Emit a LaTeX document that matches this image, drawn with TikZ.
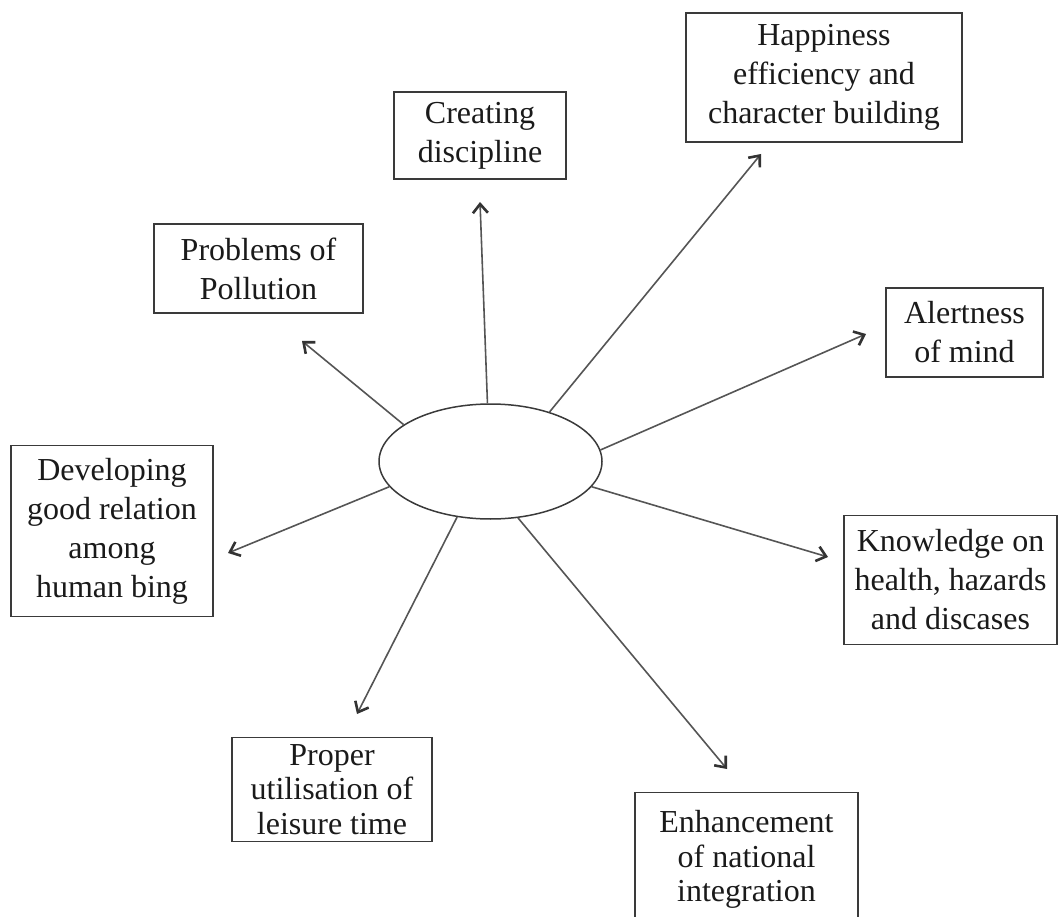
\documentclass[tikz,border=0pt]{standalone}
\usepackage{fontspec}
\setmainfont{Liberation Serif}
\usetikzlibrary{arrows.meta,shapes.geometric}
\definecolor{ink}{HTML}{1A1A1A}
\definecolor{boxline}{HTML}{3A3A3A}
\definecolor{arrowgray}{HTML}{555555}
\definecolor{tipgray}{HTML}{333333}
\begin{document}
\begin{tikzpicture}[x=1pt,y=-1pt,
  box/.style={draw=boxline,line width=1.3pt,rectangle,inner sep=0pt,align=center,
    text=ink,font=\fontsize{32}{39}\selectfont},
  tight/.style={font=\fontsize{32}{34.5}\selectfont},
  hub/.style={draw=boxline,line width=1.5pt,ellipse,inner sep=0pt,
    minimum width=223pt,minimum height=115pt},
  spoke/.style={draw=arrowgray,line width=1.6pt,
    -{Straight Barb[length=9pt,width=15pt,line width=2.6pt,color=tipgray]}}]
\clip (0,0) rectangle (1060,917);
\useasboundingbox (0,0) rectangle (1060,917);

% central ellipse
\node[hub] (c) at (490.5,461.5) {};

% surrounding boxes
\node[box,minimum width=276pt,minimum height=129pt] (happy) at (824,77.5)
  {Happiness\\efficiency and\\character building};
\node[box,minimum width=172pt,minimum height=87pt] (disc) at (480,135.5)
  {Creating\\discipline};
\node[box,minimum width=209pt,minimum height=89pt] (poll) at (258.5,268.5)
  {Problems of\\Pollution};
\node[box,minimum width=157pt,minimum height=89pt] (alert) at (964.5,332.5)
  {Alertness\\of mind};
\node[box,minimum width=202pt,minimum height=171pt] (rel) at (112,531)
  {Developing\\good relation\\among\\human bing};
\node[box,minimum width=213pt,minimum height=129pt] (know) at (950.5,580)
  {Knowledge on\\health, hazards\\and discases};
\node[box,tight,minimum width=200pt,minimum height=104pt,anchor=north] (leis) at (332,737)
  {Proper\\utilisation of\\leisure time};
% this box runs past the lower edge of the page
\node[box,tight,minimum width=223pt,minimum height=134pt,anchor=north] (nat) at (746.5,792)
  {Enhancement\\of national\\integration};

% arrow tips
\coordinate (tDisc)  at (480,202);
\coordinate (tHappy) at (761,154);
\coordinate (tPoll)  at (302,341);
\coordinate (tAlert) at (866,334);
\coordinate (tKnow)  at (828,557);
\coordinate (tRel)   at (228,553);
\coordinate (tLeis)  at (357,714);
\coordinate (tNat)   at (727,769);

% spokes from the ellipse
\draw[spoke] (c.93)    -- (tDisc);
\draw[spoke] (c.40)    -- (tHappy);
\draw[spoke] (c.157.5) -- (tPoll);
\draw[spoke] (c.6.7)   -- (tAlert);
\draw[spoke] (c.-14.2) -- (tKnow);
\draw[spoke] (c.194.4) -- (tRel);
\draw[spoke] (c.239)   -- (tLeis);
\draw[spoke] (c.296)   -- (tNat);
\end{tikzpicture}
\end{document}
